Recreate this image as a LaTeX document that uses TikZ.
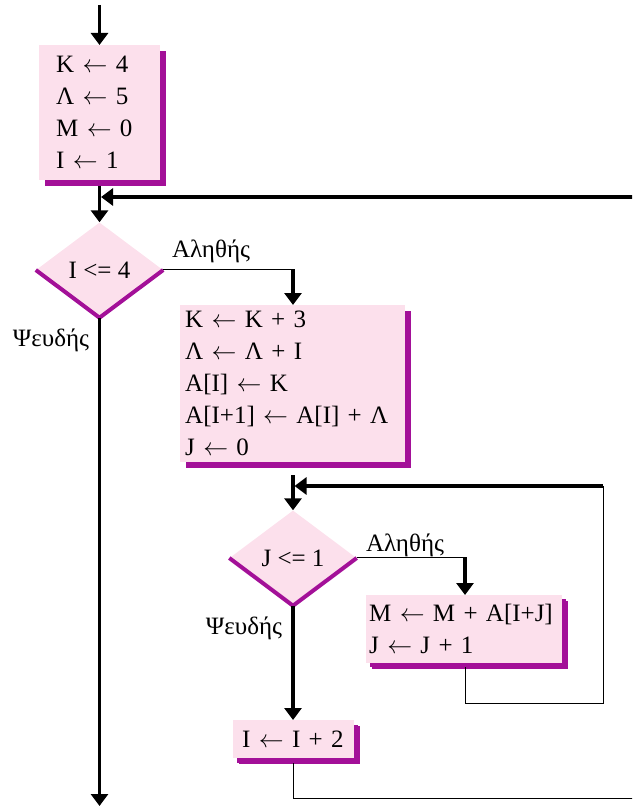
\documentclass[tikz,border=0pt]{standalone}
\usepackage{fontspec}
\setmainfont{Liberation Serif}
\usetikzlibrary{arrows.meta,shapes.geometric,shadows}
\definecolor{boxpink}{RGB}{252,224,236}
\definecolor{shadepurple}{RGB}{163,16,152}
\newcommand{\la}{$\leftarrow$}
\tikzset{
  txt/.style={font=\fontsize{25}{32}\selectfont},
  stepbox/.style={txt,fill=boxpink,align=left,anchor=north west,inner ysep=0pt,
    general shadow={fill=shadepurple,shadow xshift=6pt,shadow yshift=-6pt}},
  decision/.style={txt,diamond,fill=boxpink,inner sep=0pt,minimum width=127pt,minimum height=95pt},
  lowedge/.style={draw=shadepurple,line width=4pt},
  flow/.style={line width=3.5pt,-{Triangle[width=17pt,length=12pt]}},
  thinline/.style={line width=1pt},
  lbl/.style={txt,inner sep=0pt}
}
\begin{document}
\begin{tikzpicture}[x=1pt,y=-1pt]
\useasboundingbox (0,0) rectangle (632,810);
\clip (0,0) rectangle (632,810);
% boxes
\node[stepbox,minimum width=121pt,minimum height=135pt,text width=99pt,inner xsep=11pt] (b1) at (39,45)
  {\hspace*{6pt}K \la{} 4\\ \hspace*{6pt}Λ \la{} 5\\ \hspace*{6pt}M \la{} 0\\ \hspace*{6pt}I \la{} 1};
\node[decision] (d1) at (99.5,270) {I <= 4};
\draw[lowedge] (d1.west) -- (d1.south) -- (d1.east);
\node[stepbox,minimum width=225pt,minimum height=157pt,text width=215pt,inner xsep=5pt] (b2) at (180,305)
  {K \la{} K + 3\\ Λ \la{} Λ + I\\ A[I] \la{} K\\ A[I+1] \la{} A[I] + Λ\\ J \la{} 0};
\node[decision] (d2) at (293,558) {J <= 1};
\draw[lowedge] (d2.west) -- (d2.south) -- (d2.east);
\node[stepbox,minimum width=196pt,minimum height=68pt,text width=190pt,inner xsep=3pt,
  general shadow={fill=shadepurple,shadow xshift=4pt,shadow yshift=-4pt}] (b3) at (366,595)
  {M \la{} M + A[I+J]\\ J \la{} J + 1};
\node[stepbox,minimum width=121pt,minimum height=38pt,text width=103pt,inner xsep=9pt,
  general shadow={fill=shadepurple,shadow xshift=4pt,shadow yshift=-5pt}] (b4) at (233,720)
  {I \la{} I + 2};
% labels
\node[lbl] (t1) at (211,251) {Αληθής};
\node[lbl] (f1) at (51,340) {Ψευδής};
\node[lbl] (t2) at (405,545) {Αληθής};
\node[lbl] (f2) at (244,628) {Ψευδής};
% coordinates
\coordinate (start) at (99.5,5);
\coordinate (b1out) at (99.5,186);
\coordinate (r1) at (640,197);
\coordinate (j1) at (99.5,197);
\coordinate (c1) at (293,269);
\coordinate (end1) at (99.5,806);
\coordinate (b2out) at (293,475);
\coordinate (r2) at (603,486);
\coordinate (j2) at (293,486);
\coordinate (rb) at (603,703);
\coordinate (lb) at (465,703);
\coordinate (b3out) at (465,667);
\coordinate (c2) at (465,557);
\coordinate (b4out) at (293,763);
\coordinate (bb) at (293,798);
\coordinate (r3) at (640,798);
% connectors
\draw[flow] (start) -- (b1.north -| start);
\draw[flow] (b1out) -- (d1.north);
\draw[flow] (r1) -- ([xshift=1.5pt]j1);
\draw[thinline] (d1.east |- c1) -- (c1);
\draw[flow] (c1) -- (b2.north -| c1);
\draw[flow] (d1.south) -- (end1);
\draw[flow] (b2out) -- (d2.north);
\draw[thinline] (b3out) -- (lb) -- (rb) -- (r2);
\draw[flow] (r2) -- ([xshift=1.5pt]j2);
\draw[thinline] (d2.east |- c2) -- (c2);
\draw[flow] (c2) -- (b3.north -| c2);
\draw[flow] (d2.south) -- (b4.north -| d2.south);
\draw[thinline] (b4out) -- (bb) -- (r3);
\end{tikzpicture}
\end{document}
